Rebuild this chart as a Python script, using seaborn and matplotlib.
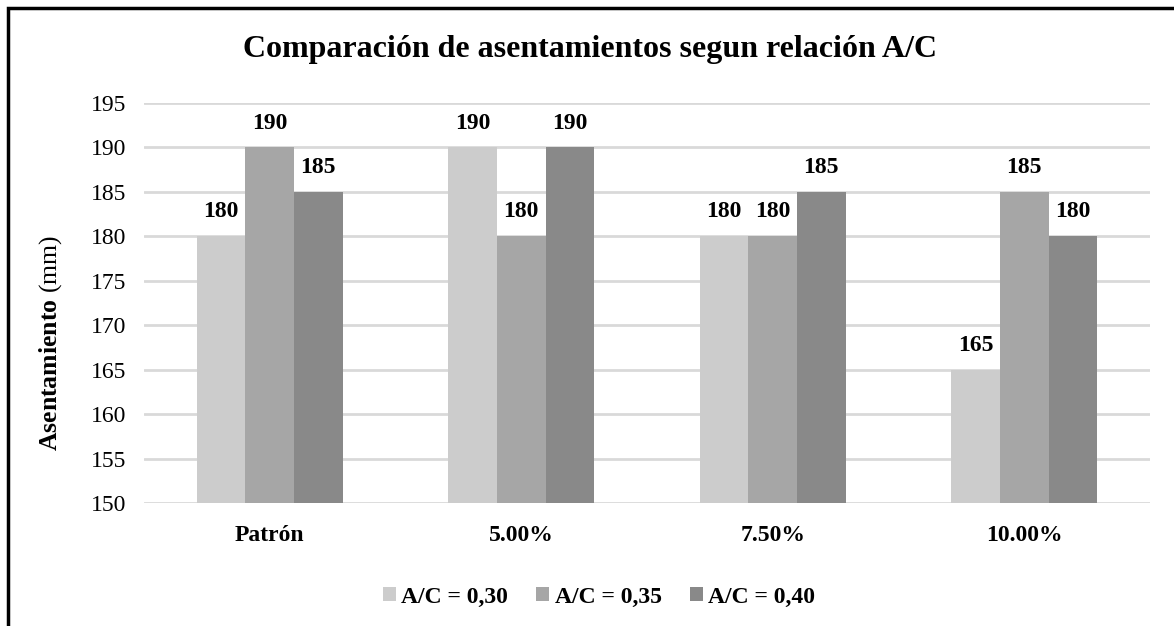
import matplotlib
matplotlib.use("Agg")
import matplotlib.pyplot as plt
import seaborn as sns
import pandas as pd
from matplotlib.patches import Rectangle

categories = ["Patrón", "5.00%", "7.50%", "10.00%"]
series_names = ["A/C = 0,30", "A/C = 0,35", "A/C = 0,40"]
ac030 = [180, 190, 180, 165]
ac035 = [190, 180, 180, 185]
ac040 = [185, 190, 185, 180]
yticks = [150, 155, 160, 165, 170, 175, 180, 185, 190, 195]

colors = ["#cccccc", "#a6a6a6", "#898989"]

rows = []
for name, vals in zip(series_names, [ac030, ac035, ac040]):
    for c, v in zip(categories, vals):
        rows.append({"cat": c, "serie": name, "val": v})
df = pd.DataFrame(rows)

sns.set_theme(style="white")
plt.rcParams["font.family"] = ["Liberation Serif", "DejaVu Serif"]
plt.rcParams["mathtext.fontset"] = "custom"
plt.rcParams["mathtext.rm"] = "Liberation Serif"
plt.rcParams["mathtext.bf"] = "Liberation Serif:bold"
plt.rcParams["text.color"] = "black"
plt.rcParams["axes.labelcolor"] = "black"
plt.rcParams["xtick.color"] = "black"
plt.rcParams["ytick.color"] = "black"

FS = 17

fig = plt.figure(figsize=(11.74, 6.26), dpi=100)
ax = fig.add_axes([144 / 1174, 1 - 503 / 626, (1150 - 144) / 1174, (503 - 103) / 626])

sns.barplot(data=df, x="cat", y="val", hue="serie", palette=colors,
            width=0.58, gap=0, ax=ax, saturation=1, legend=True, linewidth=0)

ax.set_ylim(150, 195)
ax.set_yticks(yticks)
ax.set_xlim(-0.5, 3.5)
ax.yaxis.grid(True, color="#d9d9d9", linewidth=2)
ax.set_axisbelow(True)
for s in ax.spines.values():
    s.set_visible(False)
ax.tick_params(axis="y", labelsize=FS, pad=13, length=0)
ax.tick_params(axis="x", labelsize=FS, pad=16, length=0)
for t in ax.get_xticklabels():
    t.set_fontweight("bold")
ax.set_xlabel("")
ax.set_ylabel(r"$\mathbf{Asentamiento}$ (mm)", fontsize=18.5)
ax.yaxis.set_label_coords((64 - 144) / (1150 - 144), (503 - 343) / 400)

for cont in ax.containers:
    ax.bar_label(cont, fmt="%d", fontsize=FS, fontweight="bold", padding=10)

ax.legend(loc="center", bbox_to_anchor=(599 / 1174, 1 - 597 / 626), bbox_transform=fig.transFigure,
          ncol=3, frameon=False,
          prop={"size": FS, "weight": "bold"}, handlelength=0.55, handleheight=0.55,
          handletextpad=0.22, columnspacing=1.2)

fig.text(590 / 1174, 1 - 49 / 626, "Comparación de asentamientos segun relación A/C",
         ha="center", va="center", fontsize=23, fontweight="bold")

fig.patches.append(Rectangle((8 / 1174, -0.1), 1.2, 1 - 8 / 626 + 0.1, transform=fig.transFigure,
                             fill=False, edgecolor="black", linewidth=2.5, figure=fig))

fig.savefig("out.png", dpi=100)
